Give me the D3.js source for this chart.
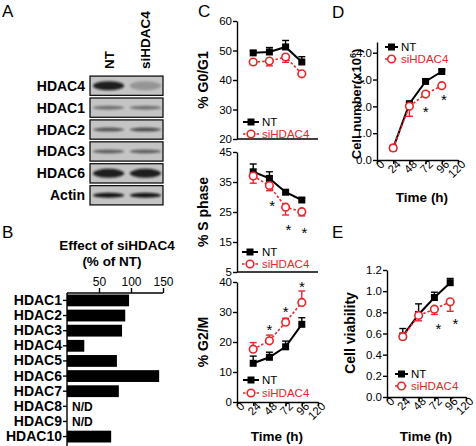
<!DOCTYPE html>
<html><head><meta charset="utf-8">
<script src="https://cdn.jsdelivr.net/npm/d3@7"></script>
<style>body{margin:0;background:#fff} svg{display:block;font-family:"Liberation Sans",Arial,sans-serif}</style>
</head><body><svg id="c" width="476" height="446"></svg>
<script>
// ---------- DATA ----------
// Panel A (western blot band appearance)
const blotRows = ["HDAC4","HDAC1","HDAC2","HDAC3","HDAC6","Actin"];
const blotLanes = ["NT","siHDAC4"];
const bandNT = [0.9,0.45,0.6,0.55,0.9,0.95];
const bandSi = [0.25,0.45,0.65,0.55,0.9,0.95];
const bandThick = [9,4,4,4,9,5];
// Panel B
const bCats = ["HDAC1","HDAC2","HDAC3","HDAC4","HDAC5","HDAC6","HDAC7","HDAC8","HDAC9","HDAC10"];
const bVals = [97,91,86,27,78,144,81,null,null,69];
const bTicks = [50,100,150];
// Panel C
const times = [24,48,72,96];
const xTicks = [0,24,48,72,96,120];
const g01NT = [49.2,49.5,51.2,46.1], g01NTerr = [0.7,1.5,2.2,1.8];
const g01Si = [46.1,46.4,47.8,42.1], g01SiErr = [0.8,1.6,1.8,0.3];
const sNT = [38.4,36.2,31.6,29.0], sNTerr = [2.6,2.2,0.6,0.6];
const sSi = [37.0,33.8,26.6,25.1], sSiErr = [2.4,1.7,2.6,1.4];
const g2NT = [12.9,14.9,18.4,25.9], g2NTerr = [2.4,1.7,1.9,2.2];
const g2Si = [17.6,20.4,26.6,33.2], g2SiErr = [2.2,1.9,1.3,3.8];
const sStars = [[52,28],[76,20],[100,19]];
const g2Stars = [[48,25],[72,31],[96,39.3]];
// Panel D
const cnNT = [0.45,2.10,2.93,3.30], cnNTerr = [0.03,0.05,0.08,0.06];
const cnSi = [0.45,2.00,2.46,2.77], cnSiErr = [0.03,0.37,0.08,0.05];
const dStars = [[72,1.87],[99,2.32]];
// Panel E
const cvNT = [0.577,0.78,0.94,1.08], cvNTerr = [0.07,0.10,0.05,0.04];
const cvSi = [0.57,0.77,0.83,0.90], cvSiErr = [0.02,0.05,0.05,0.09];
const eStars = [[78,0.67],[104,0.71]];

// ---------- DRAW ----------
const RED = "#e8262a";
const svg = d3.select("#c");
const FONT = "'Liberation Sans',Arial,sans-serif";
const TICKFS = 11.5, LEGFS = 11.5;

function letter(t,x,y){ svg.append("text").attr("x",x).attr("y",y).text(t).style("font-size","17px"); }
letter("A",2,17); letter("B",2,238); letter("C",198,17); letter("D",332,18); letter("E",332,238);

// ----- Panel A -----
const defs = svg.append("defs");
defs.append("filter").attr("id","blur").attr("x","-20%").attr("y","-50%").attr("width","140%").attr("height","200%")
  .append("feGaussianBlur").attr("stdDeviation",1.3);
const ay = d3.scaleBand().domain(blotRows).range([75,206]).paddingInner(0.12).paddingOuter(0.05);
const ax = d3.scaleBand().domain(blotLanes).range([92,162]).paddingInner(0.1);
const gA = svg.append("g");
blotRows.forEach((r,i)=>{
  const y0 = ay(r), h = ay.bandwidth();
  gA.append("rect").attr("x",90).attr("y",y0).attr("width",73).attr("height",h)
    .attr("fill","#c4c4c4").attr("stroke","#111").attr("stroke-width",1.3);
  [bandNT[i],bandSi[i]].forEach((v,j)=>{
    const lx = ax(blotLanes[j]);
    gA.append("ellipse").attr("cx",lx+ax.bandwidth()/2).attr("cy",y0+h/2)
      .attr("rx",ax.bandwidth()/2-1).attr("ry",bandThick[i]/2)
      .attr("fill","#111").attr("opacity",v).attr("filter","url(#blur)");
  });
  gA.append("text").attr("x",85).attr("y",y0+h/2).attr("dy","0.36em").attr("text-anchor","end")
    .style("font-weight","bold").style("font-size","14px").text(r);
});
blotLanes.forEach(l=>{
  gA.append("text").attr("transform",`translate(${ax(l)+ax.bandwidth()/2+5},69) rotate(-90)`)
    .style("font-weight","bold").style("font-size","13.5px").text(l);
});

// ----- Panel B -----
const bx = d3.scaleLinear().domain([0,150]).range([67,163]);
const by = d3.scaleBand().domain(bCats).range([293,444]).paddingInner(0.22).paddingOuter(0.1);
const gB = svg.append("g");
gB.append("text").attr("x",117).attr("y",250).attr("text-anchor","middle").style("font-weight","bold").style("font-size","13.5px").text("Effect of siHDAC4");
gB.append("text").attr("x",112).attr("y",266).attr("text-anchor","middle").style("font-weight","bold").style("font-size","13.5px").text("(% of NT)");
gB.selectAll("rect.bar").data(bCats.map((c,i)=>({c,v:bVals[i]})).filter(d=>d.v!=null)).enter().append("rect")
  .attr("x",bx(0)).attr("y",d=>by(d.c)).attr("width",d=>bx(d.v)-bx(0)).attr("height",by.bandwidth()).attr("fill","#000");
const bTop = gB.append("g").attr("transform","translate(0,293)").call(d3.axisTop(bx).tickValues(bTicks).tickSize(5).tickSizeOuter(0).tickPadding(2));
bTop.select(".domain").attr("d","M67,0H163");
const bLeft = gB.append("g").attr("transform","translate(67,0)").call(d3.axisLeft(by).tickSize(4).tickSizeOuter(0).tickPadding(1));
bLeft.select(".domain").attr("d","M0,293V446");
bLeft.selectAll(".tick text").style("font-weight","bold").style("font-size","14px");
bTop.selectAll(".tick text").style("font-size","12px");
[bTop,bLeft].forEach(g=>{g.selectAll(".domain,.tick line").attr("stroke","#000").attr("stroke-width",1.4); g.selectAll("text").attr("fill","#000").style("font-family",FONT);});
bCats.forEach((c,i)=>{ if(bVals[i]==null) gB.append("text").attr("x",72).attr("y",by(c)+by.bandwidth()/2).attr("dy","0.36em")
  .style("font-weight","bold").style("font-size","12px").text("N/D"); });

// ----- helpers -----
function styleAxis(g,fs){
  g.selectAll(".domain,.tick line").attr("stroke","#000").attr("stroke-width",1.4);
  g.selectAll(".tick text").attr("fill","#000").style("font-size",(fs||TICKFS)+"px").style("font-family",FONT);
}
function rotLabels(g){
  g.selectAll(".tick text").attr("text-anchor","end").attr("y",5).attr("x",2).attr("dy","0.35em")
    .attr("transform","rotate(-45)");
}
function series(g,x,y,vals,errs,dir,isNT){
  times.forEach((t,i)=>{
    const v2 = vals[i] + dir*errs[i];
    g.append("line").attr("x1",x(t)).attr("x2",x(t)).attr("y1",y(vals[i])).attr("y2",y(v2))
      .attr("stroke",isNT?"#000":RED).attr("stroke-width",1.4);
    g.append("line").attr("x1",x(t)-3.5).attr("x2",x(t)+3.5).attr("y1",y(v2)).attr("y2",y(v2))
      .attr("stroke",isNT?"#000":RED).attr("stroke-width",1.4);
  });
  const line = d3.line().x((d,i)=>x(times[i])).y(d=>y(d));
  g.append("path").attr("d",line(vals)).attr("fill","none").attr("stroke",isNT?"#000":RED)
    .attr("stroke-width",isNT?2:1.6).attr("stroke-dasharray",isNT?null:"2.5,2");
  times.forEach((t,i)=>marker(g,x(t),y(vals[i]),isNT));
}
function marker(g,cx,cy,isNT){
  if(isNT) g.append("rect").attr("x",cx-3.5).attr("y",cy-3.5).attr("width",7).attr("height",7).attr("fill","#000");
  else g.append("circle").attr("cx",cx).attr("cy",cy).attr("r",3.8).attr("fill","#fff").attr("stroke",RED).attr("stroke-width",1.6);
}
function legend(g,x0,x1,tx,yNT,ySi){
  g.append("line").attr("x1",x0).attr("x2",x1).attr("y1",yNT).attr("y2",yNT).attr("stroke","#000").attr("stroke-width",2);
  marker(g,(x0+x1)/2,yNT,true);
  g.append("text").attr("x",tx).attr("y",yNT).attr("dy","0.36em").style("font-size",LEGFS+"px").text("NT");
  g.append("line").attr("x1",x0).attr("x2",x1).attr("y1",ySi).attr("y2",ySi).attr("stroke",RED).attr("stroke-width",1.6).attr("stroke-dasharray","2.5,2");
  marker(g,(x0+x1)/2,ySi,false);
  g.append("text").attr("x",tx).attr("y",ySi).attr("dy","0.36em").attr("fill",RED).style("font-size",LEGFS+"px").text("siHDAC4");
}
function stars(g,x,y,arr){
  arr.forEach(s=>g.append("text").attr("x",x(s[0])).attr("y",y(s[1])+7.5).attr("text-anchor","middle").style("font-size","15px").text("*"));
}
function ylabel(g,cx,cy,parts,fs){
  const t = g.append("text").attr("transform",`translate(${cx},${cy}) rotate(-90)`).attr("text-anchor","middle")
    .style("font-weight","bold").style("font-size",(fs||14)+"px");
  parts.forEach(p=>{ const s=t.append("tspan").text(p.t); if(p.dy) s.attr("dy",p.dy); if(p.fs) s.style("font-size",p.fs); });
}

// ----- Panel C -----
const cx = d3.scaleLinear().domain([0,120]).range([237,318]);
const gC = svg.append("g");
function cPanel(dom,range,ticks,nt,ntE,ntDir,si,siE,siDir,label,leg,bottom){
  const y = d3.scaleLinear().domain(dom).range(range);
  const g = gC.append("g");
  const ya = g.append("g").attr("transform","translate(237,0)").call(d3.axisLeft(y).tickValues(ticks).tickSize(4).tickSizeOuter(0).tickPadding(1));
  styleAxis(ya);
  if(bottom){
    const xa = g.append("g").attr("transform",`translate(0,${range[0]})`).call(d3.axisBottom(cx).tickValues(xTicks).tickSize(4).tickSizeOuter(0));
    styleAxis(xa); rotLabels(xa);
  } else {
    g.append("line").attr("x1",237).attr("x2",318).attr("y1",range[0]).attr("y2",range[0]).attr("stroke","#000").attr("stroke-width",1.4);
  }
  series(g,cx,y,nt,ntE,ntDir,true);
  series(g,cx,y,si,siE,siDir,false);
  legend(g,leg[0],leg[1],leg[2],leg[3],leg[4]);
  ylabel(g,208,(range[0]+range[1])/2,label);
  return {g,y};
}
cPanel([20,60],[139,21],[20,30,40,50,60],g01NT,g01NTerr,1,g01Si,g01SiErr,-1,[{t:"% G0/G1"}],[243,259,262,122,134],false);
const pS = cPanel([5,45],[272,152],[5,15,25,35,45],sNT,sNTerr,1,sSi,sSiErr,-1,[{t:"% S phase"}],[242,258,262,252,264],false);
stars(pS.g,cx,pS.y,sStars);
const pG = cPanel([0,40],[402,282],[0,10,20,30,40],g2NT,g2NTerr,1,g2Si,g2SiErr,1,[{t:"% G2/M"}],[243,259,262,380,393],true);
stars(pG.g,cx,pG.y,g2Stars);
gC.append("text").attr("x",277).attr("y",441).attr("text-anchor","middle").style("font-weight","bold").style("font-size","13.5px").text("Time (h)");

// ----- Panel D -----
const dx = d3.scaleLinear().domain([0,120]).range([377,458]);
const dy = d3.scaleLinear().domain([0,4.4]).range([160,42]);
const gD = svg.append("g");
const dya = gD.append("g").attr("transform","translate(377,0)").call(d3.axisLeft(dy).tickValues([0,1,2,3,4]).tickSize(4).tickSizeOuter(0).tickPadding(1));
styleAxis(dya);
const dxa = gD.append("g").attr("transform","translate(0,160)").call(d3.axisBottom(dx).tickValues(xTicks).tickSize(4).tickSizeOuter(0));
styleAxis(dxa); rotLabels(dxa);
series(gD,dx,dy,cnNT,cnNTerr,1,true);
series(gD,dx,dy,cnSi,cnSiErr,-1,false);
legend(gD,385,398,401,47,59);
stars(gD,dx,dy,dStars);
ylabel(gD,361,104,[{t:"Cell number(x10"},{t:"6",dy:"-5",fs:"9px"},{t:")",dy:"5"}],13);
gD.append("text").attr("x",422).attr("y",202).attr("text-anchor","middle").style("font-weight","bold").style("font-size","13.5px").text("Time (h)");

// ----- Panel E -----
const ex = d3.scaleLinear().domain([0,120]).range([387,466]);
const ey = d3.scaleLinear().domain([0,1.2]).range([397,270]);
const gE = svg.append("g");
const eya = gE.append("g").attr("transform","translate(387,0)").call(d3.axisLeft(ey).tickValues([0,0.2,0.4,0.6,0.8,1.0,1.2]).tickFormat(d3.format(".1f")).tickSize(4).tickSizeOuter(0).tickPadding(1));
styleAxis(eya);
const exa = gE.append("g").attr("transform","translate(0,397)").call(d3.axisBottom(ex).tickValues(xTicks).tickSize(4).tickSizeOuter(0));
styleAxis(exa); rotLabels(exa);
series(gE,ex,ey,cvNT,cvNTerr,1,true);
series(gE,ex,ey,cvSi,cvSiErr,-1,false);
legend(gE,395,408,411,374,386);
stars(gE,ex,ey,eStars);
ylabel(gE,355,333,[{t:"Cell viability"}]);
gE.append("text").attr("x",426).attr("y",441).attr("text-anchor","middle").style("font-weight","bold").style("font-size","13.5px").text("Time (h)");
</script></body></html>
